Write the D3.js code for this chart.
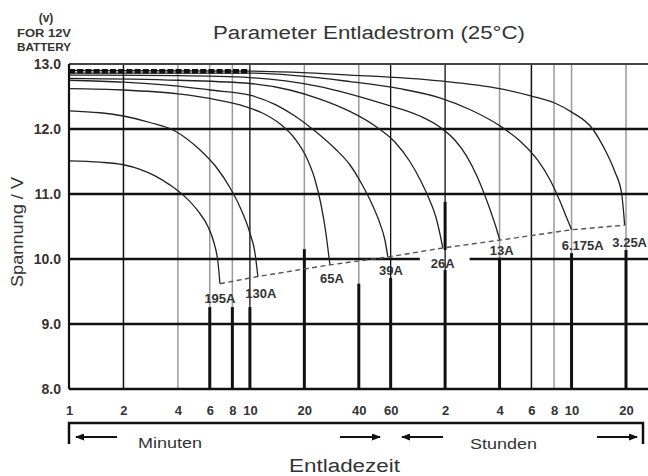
<!DOCTYPE html>
<html>
<head>
<meta charset="utf-8">
<script src="https://cdn.jsdelivr.net/npm/d3@7"></script>
<style>
  body { margin: 0; background: #fff; }
  svg { display: block; font-family: Arial, "Liberation Sans", sans-serif; }
</style>
</head>
<body>
<div id="chart"></div>
<script>
// discharge currents, one curve each (time in minutes, voltage in V)
const currents = ["195A", "130A", "65A", "39A", "26A", "13A", "6.175A", "3.25A"];

const curve195 = [[1, 11.51], [1.48, 11.49], [2, 11.45], [2.47, 11.38], [2.99, 11.28], [3.61, 11.14],
  [4.37, 10.96], [5.16, 10.74], [5.86, 10.5], [6.33, 10.25], [6.66, 9.95], [6.83, 9.62]];
const curve130 = [[1, 12.28], [1.48, 12.25], [2, 12.2], [2.8, 12.1], [3.85, 11.97], [5.29, 11.68],
  [6.57, 11.4], [7.75, 11.1], [8.81, 10.8], [10, 10.4], [10.66, 10.1], [11.07, 9.73]];
const curve65 = [[1, 12.62], [2, 12.6], [4, 12.54], [6.01, 12.47], [8.81, 12.37], [11.65, 12.25],
  [14.65, 12.08], [17.73, 11.85], [20.65, 11.55], [22.9, 11.22], [24.68, 10.85], [26.3, 10.4],
  [27.3, 10.05], [27.7, 9.91]];
const curve39 = [[1, 12.75], [2, 12.72], [4, 12.66], [6.01, 12.6], [10, 12.52], [13.74, 12.38],
  [17.73, 12.2], [22.9, 11.97], [29.5, 11.7], [35.7, 11.45], [41.6, 11.15], [47.2, 10.85],
  [52.3, 10.55], [55.7, 10.3], [57.9, 10.03]];
const curve26 = [[1, 12.78], [4, 12.75], [10, 12.7], [16.6, 12.6], [24.4, 12.46], [35.7, 12.27],
  [49.0, 12.05], [63.3, 11.8], [76.6, 11.5], [88.1, 11.2], [98.7, 10.9], [106.6, 10.65],
  [112.1, 10.4], [116.5, 10.17]];
const curve13 = [[1, 12.83], [4, 12.82], [10, 12.79], [23.5, 12.66], [54.3, 12.39], [87, 12.2],
  [112.1, 12.03], [135.7, 11.83], [158.1, 11.58], [179.6, 11.28], [198.8, 10.98], [214.5, 10.73],
  [228.7, 10.5], [240.6, 10.29]];
const curve6175 = [[1, 12.86], [10, 12.86], [35.7, 12.73], [67.4, 12.62], [112.1, 12.48], [164.3, 12.3],
  [240.6, 12.05], [310, 11.82], [390, 11.52], [460, 11.2], [516, 10.9], [557, 10.67], [601, 10.45]];
const curve325 = [[1, 12.9], [10, 12.89], [35.7, 12.83], [112.1, 12.74], [240.6, 12.62], [357, 12.51],
  [484, 12.4], [601, 12.26], [785, 12.0], [859, 11.83], [938, 11.63], [1039, 11.35], [1136, 11.0],
  [1180, 10.52]];

const curves = [curve195, curve130, curve65, curve39, curve26, curve13, curve6175, curve325];

// float voltage (thick dashed line at the top)
const floatLine = [[1, 12.89], [10, 12.89]];

const voltTicks = [8, 9, 10, 11, 12, 13];
const timeTicks = [1, 2, 4, 6, 8, 10, 20, 40, 60, 120, 240, 360, 480, 600, 1200];
const timeTickLabels = ["1", "2", "4", "6", "8", "10", "20", "40", "60", "2", "4", "6", "8", "10", "20"];

const width = 648, height = 476;
const x = d3.scaleLog().domain([1, 1200]).range([69, 626]);
const y = d3.scaleLinear().domain([8, 13]).range([389, 64]);
const right = width;

const svg = d3.select("#chart").append("svg")
  .attr("width", width)
  .attr("height", height);

// vertical grid: colour of the thin line, and where the heavy part below the labels starts
const gridStyle = {
  1: { c: "#111", w: 2 },
  2: { c: "#111", w: 1.5 },
  4: { c: "#999", w: 1.5 },
  6: { c: "#999", w: 1.5, low: 9.26 },
  8: { c: "#999", w: 1.5, low: 9.26 },
  10: { c: "#111", w: 1.3, low: 9.26 },
  20: { c: "#999", w: 1.5, low: 10.15 },
  40: { c: "#999", w: 1.5, low: 9.62 },
  60: { c: "#111", w: 1.3, low: 9.71 },
  120: { c: "#111", w: 1.3, low: 9.83, seg: [10.88, 10.14] },
  240: { c: "#999", w: 1.5, low: 10.02 },
  360: { c: "#111", w: 1.5 },
  480: { c: "#999", w: 1.5 },
  600: { c: "#999", w: 1.5, low: 10.09 },
  1200: { c: "#999", w: 1.5, low: 10.14 }
};

const grid = svg.append("g");
timeTicks.forEach(t => {
  const s = gridStyle[t];
  grid.append("line")
    .attr("x1", x(t)).attr("x2", x(t))
    .attr("y1", y(13)).attr("y2", y(8))
    .attr("stroke", s.c).attr("stroke-width", s.w);
  if (s.low !== undefined) {
    grid.append("line")
      .attr("x1", x(t)).attr("x2", x(t))
      .attr("y1", y(s.low)).attr("y2", y(8))
      .attr("stroke", "#111").attr("stroke-width", 3);
  }
  if (s.seg) {
    grid.append("line")
      .attr("x1", x(t)).attr("x2", x(t))
      .attr("y1", y(s.seg[0])).attr("y2", y(s.seg[1]))
      .attr("stroke", "#111").attr("stroke-width", 3);
  }
});

// horizontal grid (10.0 line is broken where the 26A label sits)
voltTicks.forEach(v => {
  const segs = v === 10 ? [[x(1), x(87)], [x(164), right]] : [[x(1), right]];
  segs.forEach(([a, b]) => {
    grid.append("line")
      .attr("x1", a).attr("x2", b)
      .attr("y1", y(v)).attr("y2", y(v))
      .attr("stroke", v === 13 ? "#444" : "#111")
      .attr("stroke-width", v === 13 ? 2 : 2.6);
  });
});

const line = d3.line()
  .x(d => x(d[0]))
  .y(d => y(d[1]));

// discharge curves
const curveLine = d3.line()
  .x(d => x(d[0]))
  .y(d => y(d[1]))
  .curve(d3.curveMonotoneX);

svg.append("g").selectAll("path")
  .data(curves)
  .join("path")
  .attr("d", curveLine)
  .attr("fill", "none")
  .attr("stroke", "#222")
  .attr("stroke-width", 1.3);

// float voltage, drawn on top of the curve starts
svg.append("path")
  .datum(floatLine)
  .attr("d", line)
  .attr("fill", "none")
  .attr("stroke", "#111")
  .attr("stroke-width", 4.5)
  .attr("stroke-dasharray", "6,2.2");

// end-of-discharge line through the curve ends
const ends = curves.map(c => c[c.length - 1]);
svg.append("path")
  .datum(ends)
  .attr("d", line)
  .attr("fill", "none")
  .attr("stroke", "#555")
  .attr("stroke-width", 1.4)
  .attr("stroke-dasharray", "5,3.5");

// current labels under the curve ends
const labelOffsets = [[0, 19], [3, 21], [2, 18], [3, 18], [0, 20], [2, 15], [11, 20], [5, 22]];
svg.append("g").selectAll("text")
  .data(currents)
  .join("text")
  .attr("x", (d, i) => x(ends[i][0]) + labelOffsets[i][0])
  .attr("y", (d, i) => y(ends[i][1]) + labelOffsets[i][1])
  .attr("text-anchor", "middle")
  .attr("font-size", 13)
  .attr("font-weight", "bold")
  .attr("fill", "#333")
  .text(d => d);

// axes
const yAxis = svg.append("g")
  .attr("transform", `translate(${x(1)},0)`)
  .call(d3.axisLeft(y).tickValues(voltTicks).tickFormat(d3.format(".1f")).tickSize(0).tickPadding(8));
yAxis.select(".domain").remove();
yAxis.selectAll("text")
  .attr("font-size", 14)
  .attr("font-weight", "bold")
  .attr("font-family", "Arial, 'Liberation Sans', sans-serif")
  .attr("fill", "#3a3030");

const xAxis = svg.append("g")
  .attr("transform", `translate(0,${y(8)})`)
  .call(d3.axisBottom(x).tickValues(timeTicks).tickFormat((d, i) => timeTickLabels[i]).tickSize(0).tickPadding(17));
xAxis.select(".domain").remove();
xAxis.selectAll("text")
  .attr("font-size", 13)
  .attr("font-weight", "bold")
  .attr("font-family", "Arial, 'Liberation Sans', sans-serif")
  .attr("fill", "#333");

// left axis line
svg.append("line")
  .attr("x1", x(1)).attr("x2", x(1))
  .attr("y1", y(13)).attr("y2", y(8))
  .attr("stroke", "#111").attr("stroke-width", 2.2);

// titles
svg.append("text")
  .attr("x", 369).attr("y", 39)
  .attr("text-anchor", "middle")
  .attr("font-size", 18)
  .attr("fill", "#333")
  .attr("textLength", 312)
  .attr("lengthAdjust", "spacingAndGlyphs")
  .text("Parameter Entladestrom (25°C)");

const unit = svg.append("g")
  .attr("font-weight", "bold")
  .attr("fill", "#333")
  .attr("text-anchor", "middle");
unit.append("text").attr("x", 46).attr("y", 22).attr("font-size", 12).text("(v)");
unit.append("text").attr("x", 44).attr("y", 37).attr("font-size", 11)
  .attr("textLength", 54).attr("lengthAdjust", "spacingAndGlyphs").text("FOR 12V");
unit.append("text").attr("x", 44).attr("y", 51).attr("font-size", 11)
  .attr("textLength", 54).attr("lengthAdjust", "spacingAndGlyphs").text("BATTERY");

svg.append("text")
  .attr("transform", "translate(23,232) rotate(-90)")
  .attr("text-anchor", "middle")
  .attr("font-size", 16)
  .attr("fill", "#333")
  .attr("textLength", 110)
  .attr("lengthAdjust", "spacingAndGlyphs")
  .text("Spannung / V");

// bracket with arrows below the time axis
svg.append("path")
  .attr("d", `M${x(1)},444 V423 H643 V444`)
  .attr("fill", "none")
  .attr("stroke", "#111")
  .attr("stroke-width", 2.5);

svg.append("defs").append("marker")
  .attr("id", "head")
  .attr("markerUnits", "userSpaceOnUse")
  .attr("markerWidth", 9).attr("markerHeight", 7)
  .attr("refX", 8).attr("refY", 3.5)
  .attr("orient", "auto")
  .append("path")
  .attr("d", "M0,0 L9,3.5 L0,7 Z")
  .attr("fill", "#111");

const arrows = [[117, 76], [340, 380], [443, 402], [597, 637]];
svg.append("g").selectAll("line")
  .data(arrows)
  .join("line")
  .attr("x1", d => d[0]).attr("x2", d => d[1])
  .attr("y1", 437).attr("y2", 437)
  .attr("stroke", "#111")
  .attr("stroke-width", 2)
  .attr("marker-end", "url(#head)");

svg.append("text")
  .attr("x", 138).attr("y", 448)
  .attr("font-size", 15).attr("fill", "#333")
  .attr("textLength", 64).attr("lengthAdjust", "spacingAndGlyphs")
  .text("Minuten");
svg.append("text")
  .attr("x", 470).attr("y", 449)
  .attr("font-size", 15).attr("fill", "#333")
  .attr("textLength", 67).attr("lengthAdjust", "spacingAndGlyphs")
  .text("Stunden");
svg.append("text")
  .attr("x", 289).attr("y", 472)
  .attr("font-size", 18).attr("fill", "#333")
  .attr("textLength", 111).attr("lengthAdjust", "spacingAndGlyphs")
  .text("Entladezeit");
</script>
</body>
</html>
